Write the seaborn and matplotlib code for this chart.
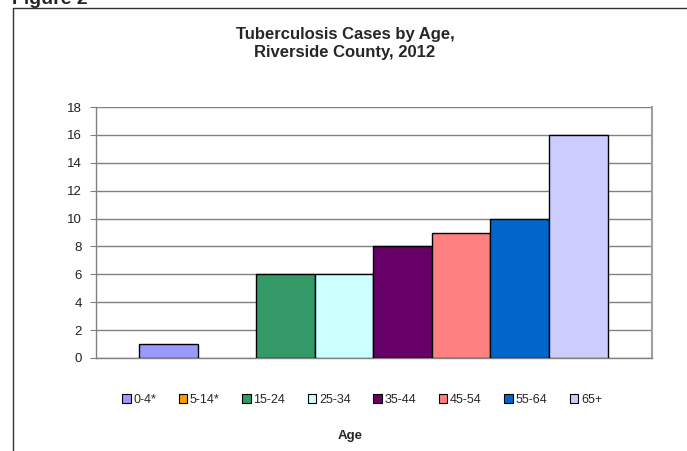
import matplotlib
matplotlib.use("Agg")
import matplotlib.pyplot as plt
import seaborn as sns
import pandas as pd
from matplotlib.patches import Patch
from matplotlib.lines import Line2D

# dados do grafico
idades = ['0-4*', '5-14*', '15-24', '25-34', '35-44', '45-54', '55-64', '65+']
casos = [1, 0, 6, 6, 8, 9, 10, 16]
cores = ['#9999FF', '#FF9900', '#339966', '#CCFFFF', '#660066', '#FF8080', '#0066CC', '#CCCCFF']

df = pd.DataFrame({'Idade': idades, 'Casos': casos})

sns.set_style('white')
plt.rcParams['font.family'] = ['Liberation Sans', 'DejaVu Sans']

fig = plt.figure(figsize=(6.87, 4.51), dpi=100)
ax = fig.add_axes([96 / 687, 1 - 358 / 451, (652 - 96) / 687, (358 - 107) / 451])

sns.barplot(data=df, x='Idade', y='Casos', hue='Idade', palette=cores, width=1.0, saturation=1,
            edgecolor='black', linewidth=1.0, legend=False, ax=ax, zorder=3)
# barra com zero nao aparece no original
for p in ax.patches:
    if p.get_height() == 0:
        p.set_visible(False)

ax.set_ylim(0, 18)
ax.set_yticks(range(0, 19, 2))
ax.set_xlim(-1.24, 8.26)
ax.set_xticks([])
ax.set_xlabel('')
ax.set_ylabel('')
ax.yaxis.grid(True, color='#808080', linewidth=1.0, zorder=0)
ax.set_axisbelow(True)
ax.tick_params(axis='y', length=4, width=0.8, color='#808080', left=True, labelsize=9.5, pad=6, labelcolor='#222222')
for lado in ['left', 'bottom']:
    ax.spines[lado].set_color('#808080')
    ax.spines[lado].set_linewidth(1.0)
ax.spines['right'].set_color('#A0A0A0')
ax.spines['right'].set_linewidth(1.5)
ax.spines['top'].set_visible(False)

# titulo
fig.text(345 / 687, 1 - 44 / 451, 'Tuberculosis Cases by Age,\nRiverside County, 2012',
         ha='center', va='center', fontsize=12, fontweight='bold', linespacing=1.25)

# legenda
handles = [Patch(facecolor=c, edgecolor='black', linewidth=0.8) for c in cores]
fig.legend(handles, idades, loc='center', bbox_to_anchor=(362 / 687, 1 - 400 / 451), ncol=8,
           frameon=False, fontsize=9, handlelength=0.7, handleheight=0.7, handletextpad=0.2,
           columnspacing=1.8)

fig.text(350 / 687, 1 - 436 / 451, 'Age', ha='center', va='center', fontsize=9.5, fontweight='bold')

# moldura da figura e "Figure 2" cortado
fig.add_artist(Line2D([13 / 687, 13 / 687], [0, 1 - 8 / 451], transform=fig.transFigure, color='#333333', linewidth=1.0))
fig.add_artist(Line2D([13 / 687, 1], [1 - 8 / 451, 1 - 8 / 451], transform=fig.transFigure, color='#333333', linewidth=1.0))
fig.text(12 / 687, 1 - 4 / 451, 'Figure 2', ha='left', va='baseline', fontsize=14, fontweight='bold')

fig.savefig('out.png', dpi=100)
